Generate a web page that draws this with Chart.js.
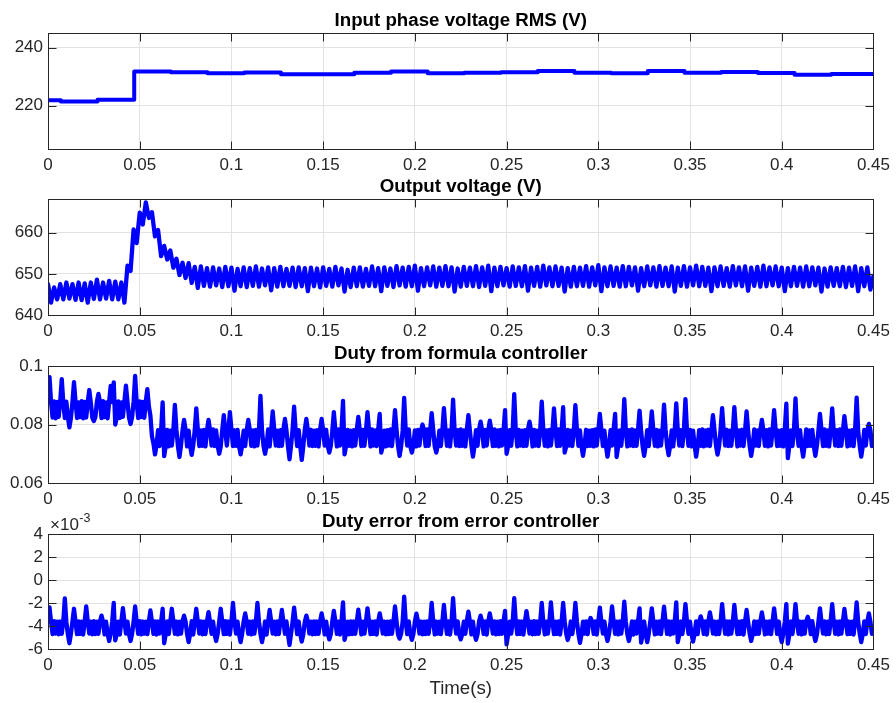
<!DOCTYPE html>
<html>
<head>
<meta charset="utf-8">
<title>Converter simulation traces</title>
<script src="https://cdn.jsdelivr.net/npm/chart.js@4.4.0/dist/chart.umd.min.js"></script>
<style>
  html, body { margin: 0; padding: 0; background: #ffffff; }
  #wrap { position: relative; width: 896px; height: 703px; overflow: hidden; }
  #wrap canvas { position: absolute; left: 0; }
</style>
</head>
<body>
<div id="wrap">
  <canvas id="rmsChart" width="896" height="177" style="top:0px"></canvas>
  <canvas id="voutChart" width="896" height="177" style="top:166px"></canvas>
  <canvas id="dutyChart" width="896" height="178" style="top:333px"></canvas>
  <canvas id="errChart" width="896" height="202" style="top:501px"></canvas>
</div>
<script>
// ---- Simulation traces ----
// Logging intervals (s)
const VOUT_STEP = 1 / 600;
const DUTY_STEP = 1 / 1200;

// Input phase voltage RMS, updated once per mains cycle (time s, value V)
const rmsTimes  = [0, 0.007, 0.027, 0.047, 0.067, 0.087, 0.107, 0.127, 0.147, 0.167, 0.187, 0.207,
                   0.227, 0.247, 0.267, 0.287, 0.307, 0.327, 0.347, 0.367, 0.387, 0.407, 0.427, 0.45];
const rmsValues = [221.8, 221.4, 222.0, 231.7, 231.5, 231.1, 231.4, 230.8, 230.8, 231.3, 231.7, 231.1,
                   231.3, 231.5, 231.9, 231.3, 231.1, 231.9, 231.3, 231.6, 231.2, 230.6, 230.9, 230.9];

// DC output voltage (V), one value every VOUT_STEP
const outputVoltage = [
  647.5, 643.0, 646.7, 643.8, 647.5, 643.8, 647.9, 644.0, 647.5, 643.7, 647.9, 643.6,
  647.7, 643.0, 647.9, 643.9, 648.6, 643.8, 647.9, 644.0, 648.3, 643.8, 648.1, 643.8,
  647.9, 643.0, 652.0, 650.7, 660.8, 657.5, 664.9, 662.0, 667.4, 663.6, 665.0, 659.1,
  660.7, 654.3, 656.8, 653.5, 655.7, 651.5, 653.7, 649.7, 652.7, 649.0, 652.6, 647.8,
  651.7, 646.6, 651.8, 647.1, 651.4, 646.9, 651.6, 647.2, 651.3, 646.8, 651.7, 647.0,
  651.5, 645.9, 651.2, 647.0, 651.6, 646.8, 651.4, 647.1, 651.8, 646.9, 651.3, 647.2,
  651.6, 646.0, 651.4, 646.9, 651.7, 647.0, 651.2, 647.1, 651.5, 646.8, 651.6, 647.0,
  651.4, 645.8, 651.5, 647.0, 651.3, 646.7, 651.6, 647.1, 651.2, 646.9, 651.7, 647.2,
  651.3, 645.7, 651.0, 646.8, 651.5, 647.0, 651.6, 646.9, 651.2, 647.1, 651.8, 647.0,
  651.4, 645.8, 651.6, 647.1, 651.3, 646.8, 651.9, 647.2, 651.5, 646.9, 651.7, 647.0,
  652.0, 645.9, 651.4, 647.0, 651.6, 647.2, 651.8, 646.9, 651.5, 647.1, 651.9, 647.0,
  651.6, 645.7, 651.3, 646.9, 651.7, 647.1, 651.5, 647.0, 651.9, 646.8, 651.6, 647.1,
  652.0, 645.8, 651.5, 647.0, 651.7, 647.2, 651.4, 646.9, 651.8, 647.1, 651.6, 647.0,
  651.9, 645.9, 651.5, 647.1, 651.7, 646.9, 652.0, 647.2, 651.6, 647.0, 651.8, 647.1,
  651.5, 645.7, 651.4, 646.9, 651.7, 647.0, 651.5, 647.1, 651.9, 646.9, 651.6, 647.2,
  652.1, 645.8, 651.6, 647.0, 651.8, 647.1, 651.5, 646.9, 651.9, 647.0, 651.7, 647.2,
  651.6, 645.9, 651.4, 647.0, 651.8, 647.2, 651.6, 646.9, 651.9, 647.1, 651.5, 647.0,
  651.8, 645.7, 651.5, 647.1, 651.9, 646.9, 651.6, 647.2, 652.0, 647.0, 651.7, 647.1,
  651.5, 645.8, 651.6, 647.0, 651.8, 647.1, 651.4, 646.9, 651.9, 647.2, 651.6, 647.0,
  651.8, 645.9, 651.5, 647.1, 651.7, 646.9, 652.0, 647.0, 651.6, 647.2, 651.8, 647.0,
  651.5, 645.8, 651.4, 647.0, 651.7, 647.1, 651.5, 646.9, 651.8, 647.0, 651.6, 647.2,
  651.5, 645.7, 651.3, 646.9, 651.6, 647.1, 651.4, 647.0, 651.7, 646.8, 651.5, 647.1,
  651.8, 645.8, 651.4, 647.0, 651.6, 646.2, 649.5
];

// Duty cycle produced by the formula-based controller, one value every DUTY_STEP
const dutyFormula = [
  0.0880, 0.0962, 0.0876, 0.0824, 0.0879, 0.0821, 0.0877, 0.0826, 0.0880, 0.0955, 0.0875, 0.0822, 0.0878, 0.0825, 0.0790, 0.0823, 0.0877, 0.0945, 0.0879, 0.0822,
  0.0876, 0.0825, 0.0880, 0.0821, 0.0877, 0.0824, 0.0878, 0.0918, 0.0875, 0.0823, 0.0812, 0.0826, 0.0879, 0.0905, 0.0877, 0.0822, 0.0880, 0.0825, 0.0876, 0.0821,
  0.0878, 0.0932, 0.0877, 0.0944, 0.0800, 0.0824, 0.0879, 0.0822, 0.0876, 0.0826, 0.0880, 0.0933, 0.0877, 0.0823, 0.0802, 0.0825, 0.0878, 0.0966, 0.0876, 0.0822,
  0.0879, 0.0825, 0.0877, 0.0823, 0.0880, 0.0921, 0.0862, 0.0830, 0.0760, 0.0735, 0.0698, 0.0728, 0.0781, 0.0726, 0.0780, 0.0876, 0.0692, 0.0727, 0.0782, 0.0725,
  0.0779, 0.0728, 0.0781, 0.0867, 0.0783, 0.0726, 0.0689, 0.0729, 0.0780, 0.0816, 0.0782, 0.0725, 0.0779, 0.0727, 0.0696, 0.0728, 0.0781, 0.0855, 0.0783, 0.0726,
  0.0780, 0.0727, 0.0782, 0.0725, 0.0779, 0.0816, 0.0781, 0.0728, 0.0783, 0.0726, 0.0780, 0.0727, 0.0700, 0.0725, 0.0782, 0.0832, 0.0779, 0.0728, 0.0781, 0.0842,
  0.0783, 0.0726, 0.0780, 0.0727, 0.0782, 0.0725, 0.0698, 0.0728, 0.0779, 0.0726, 0.0781, 0.0816, 0.0783, 0.0727, 0.0780, 0.0725, 0.0782, 0.0728, 0.0779, 0.0898,
  0.0781, 0.0726, 0.0700, 0.0727, 0.0783, 0.0725, 0.0780, 0.0845, 0.0782, 0.0728, 0.0779, 0.0726, 0.0781, 0.0727, 0.0783, 0.0819, 0.0780, 0.0725, 0.0681, 0.0728,
  0.0782, 0.0861, 0.0779, 0.0726, 0.0781, 0.0727, 0.0679, 0.0725, 0.0783, 0.0819, 0.0780, 0.0728, 0.0782, 0.0726, 0.0779, 0.0727, 0.0781, 0.0725, 0.0783, 0.0819,
  0.0780, 0.0728, 0.0782, 0.0726, 0.0704, 0.0727, 0.0779, 0.0842, 0.0781, 0.0725, 0.0783, 0.0728, 0.0780, 0.0881, 0.0698, 0.0726, 0.0782, 0.0727, 0.0779, 0.0725,
  0.0781, 0.0728, 0.0783, 0.0826, 0.0780, 0.0726, 0.0782, 0.0727, 0.0779, 0.0842, 0.0781, 0.0725, 0.0783, 0.0728, 0.0780, 0.0726, 0.0782, 0.0836, 0.0704, 0.0727,
  0.0779, 0.0725, 0.0781, 0.0728, 0.0783, 0.0726, 0.0780, 0.0849, 0.0782, 0.0727, 0.0693, 0.0725, 0.0779, 0.0891, 0.0781, 0.0728, 0.0783, 0.0726, 0.0704, 0.0727,
  0.0780, 0.0725, 0.0782, 0.0728, 0.0779, 0.0800, 0.0781, 0.0726, 0.0783, 0.0727, 0.0780, 0.0839, 0.0782, 0.0725, 0.0704, 0.0728, 0.0779, 0.0726, 0.0781, 0.0856,
  0.0783, 0.0727, 0.0780, 0.0725, 0.0782, 0.0885, 0.0779, 0.0728, 0.0781, 0.0726, 0.0783, 0.0727, 0.0780, 0.0725, 0.0782, 0.0832, 0.0779, 0.0728, 0.0690, 0.0726,
  0.0781, 0.0727, 0.0783, 0.0810, 0.0780, 0.0725, 0.0782, 0.0728, 0.0779, 0.0813, 0.0781, 0.0726, 0.0783, 0.0727, 0.0780, 0.0725, 0.0782, 0.0728, 0.0779, 0.0849,
  0.0700, 0.0726, 0.0781, 0.0727, 0.0783, 0.0904, 0.0780, 0.0725, 0.0782, 0.0728, 0.0779, 0.0726, 0.0781, 0.0727, 0.0783, 0.0810, 0.0780, 0.0725, 0.0782, 0.0728,
  0.0779, 0.0726, 0.0781, 0.0878, 0.0783, 0.0727, 0.0780, 0.0725, 0.0782, 0.0728, 0.0779, 0.0855, 0.0781, 0.0726, 0.0783, 0.0727, 0.0780, 0.0859, 0.0704, 0.0725,
  0.0782, 0.0728, 0.0779, 0.0726, 0.0781, 0.0866, 0.0783, 0.0727, 0.0780, 0.0725, 0.0693, 0.0728, 0.0782, 0.0726, 0.0779, 0.0727, 0.0781, 0.0725, 0.0783, 0.0728,
  0.0780, 0.0836, 0.0782, 0.0726, 0.0779, 0.0727, 0.0690, 0.0725, 0.0781, 0.0728, 0.0783, 0.0836, 0.0689, 0.0726, 0.0780, 0.0727, 0.0782, 0.0887, 0.0779, 0.0725,
  0.0781, 0.0728, 0.0783, 0.0726, 0.0780, 0.0727, 0.0782, 0.0847, 0.0779, 0.0725, 0.0693, 0.0728, 0.0781, 0.0726, 0.0783, 0.0845, 0.0780, 0.0727, 0.0782, 0.0725,
  0.0779, 0.0728, 0.0781, 0.0868, 0.0783, 0.0726, 0.0695, 0.0727, 0.0780, 0.0725, 0.0782, 0.0872, 0.0779, 0.0728, 0.0781, 0.0726, 0.0783, 0.0887, 0.0780, 0.0727,
  0.0782, 0.0725, 0.0779, 0.0728, 0.0690, 0.0726, 0.0781, 0.0727, 0.0783, 0.0725, 0.0780, 0.0728, 0.0782, 0.0726, 0.0779, 0.0832, 0.0781, 0.0727, 0.0697, 0.0725,
  0.0783, 0.0856, 0.0780, 0.0728, 0.0782, 0.0726, 0.0779, 0.0727, 0.0781, 0.0859, 0.0783, 0.0725, 0.0780, 0.0728, 0.0782, 0.0726, 0.0779, 0.0845, 0.0781, 0.0727,
  0.0693, 0.0725, 0.0783, 0.0728, 0.0780, 0.0726, 0.0782, 0.0816, 0.0779, 0.0727, 0.0781, 0.0725, 0.0783, 0.0728, 0.0780, 0.0849, 0.0782, 0.0726, 0.0779, 0.0727,
  0.0781, 0.0725, 0.0783, 0.0871, 0.0685, 0.0728, 0.0780, 0.0726, 0.0782, 0.0889, 0.0779, 0.0727, 0.0781, 0.0725, 0.0690, 0.0728, 0.0783, 0.0726, 0.0780, 0.0727,
  0.0782, 0.0725, 0.0693, 0.0728, 0.0779, 0.0836, 0.0781, 0.0726, 0.0783, 0.0727, 0.0780, 0.0725, 0.0782, 0.0855, 0.0779, 0.0728, 0.0781, 0.0726, 0.0783, 0.0727,
  0.0780, 0.0829, 0.0782, 0.0725, 0.0779, 0.0728, 0.0781, 0.0726, 0.0783, 0.0892, 0.0780, 0.0727, 0.0690, 0.0725, 0.0782, 0.0728, 0.0779, 0.0802, 0.0781, 0.0726,
  0.0760
];

// Duty correction from the error controller, in units of 1e-3, one value every DUTY_STEP
const dutyErrorMilli = [
  -3.60, -2.38, -3.62, -4.70, -3.58, -4.66, -3.63, -4.72, -3.61, -4.68, -3.59, -1.60, -3.62, -4.73, -5.50, -4.67, -3.60, -2.50, -3.63, -4.71,
  -3.59, -4.69, -3.62, -4.74, -3.60, -2.30, -3.61, -4.66, -3.63, -4.72, -3.58, -4.70, -3.62, -4.68, -3.60, -3.10, -3.61, -4.73, -3.63, -4.67,
  -5.30, -4.71, -3.60, -2.00, -5.25, -4.69, -3.62, -4.74, -3.59, -2.45, -3.61, -4.66, -3.63, -4.72, -5.30, -4.70, -3.60, -2.30, -3.62, -4.68,
  -3.58, -4.73, -3.61, -4.67, -3.63, -4.71, -3.60, -2.65, -3.62, -4.69, -3.59, -4.74, -3.61, -4.66, -3.63, -2.50, -5.50, -4.72, -3.60, -4.70,
  -3.62, -2.50, -3.59, -4.68, -3.61, -4.73, -3.63, -4.67, -3.60, -3.10, -3.62, -4.71, -5.40, -4.69, -3.58, -4.74, -3.61, -2.50, -3.63, -4.66,
  -3.60, -4.72, -3.62, -4.70, -3.59, -2.80, -3.61, -4.68, -3.63, -4.73, -5.30, -4.67, -3.60, -2.50, -3.62, -4.71, -3.58, -4.69, -3.61, -4.74,
  -3.63, -2.00, -3.60, -4.66, -3.62, -4.72, -5.40, -4.70, -3.59, -2.90, -3.61, -4.68, -3.63, -4.73, -3.60, -4.67, -3.62, -2.00, -3.58, -4.71,
  -5.40, -4.69, -3.61, -4.74, -3.63, -2.60, -3.60, -4.66, -3.62, -4.72, -3.59, -4.70, -3.61, -2.60, -3.63, -4.68, -3.60, -4.73, -5.65, -4.67,
  -3.62, -2.40, -3.58, -4.71, -3.61, -4.69, -5.36, -4.74, -3.63, -3.10, -3.60, -4.66, -3.62, -4.72, -3.59, -4.70, -3.61, -4.68, -3.63, -2.90,
  -3.60, -4.73, -3.62, -4.67, -5.16, -4.71, -3.58, -2.68, -3.61, -4.69, -3.63, -4.74, -3.60, -1.94, -5.20, -4.66, -3.62, -4.72, -3.59, -4.70,
  -3.61, -4.68, -3.63, -2.58, -3.60, -4.73, -3.62, -4.67, -3.58, -2.46, -3.61, -4.71, -3.63, -4.69, -3.60, -4.74, -3.62, -2.90, -3.59, -4.66,
  -3.61, -4.72, -3.63, -4.70, -3.60, -4.68, -3.62, -2.29, -3.58, -4.73, -5.10, -4.67, -3.61, -1.45, -3.63, -4.71, -3.60, -4.69, -5.20, -4.74,
  -3.62, -2.93, -3.59, -4.66, -3.61, -4.72, -3.63, -4.70, -3.60, -4.68, -3.62, -2.00, -3.58, -4.73, -3.61, -4.67, -3.63, -4.71, -3.60, -2.17,
  -3.62, -4.69, -3.59, -4.74, -3.61, -1.57, -3.63, -4.66, -3.60, -4.72, -5.16, -4.70, -3.62, -4.68, -3.58, -2.75, -3.61, -4.73, -3.63, -4.67,
  -5.20, -4.71, -3.60, -3.10, -3.62, -4.69, -3.59, -4.74, -3.61, -2.90, -3.63, -4.66, -3.60, -4.72, -3.62, -4.70, -3.58, -4.68, -3.61, -2.68,
  -5.60, -4.73, -3.63, -4.67, -3.60, -1.57, -3.62, -4.71, -3.59, -4.69, -3.61, -4.74, -3.63, -2.70, -3.60, -4.66, -3.62, -4.72, -3.58, -4.70,
  -3.61, -4.68, -3.63, -2.00, -3.60, -4.73, -3.62, -4.67, -3.59, -1.94, -3.61, -4.71, -3.63, -4.69, -3.60, -4.74, -3.62, -2.00, -3.58, -4.66,
  -5.22, -4.72, -3.61, -4.70, -3.63, -2.00, -3.60, -4.68, -5.47, -4.73, -3.62, -4.67, -3.59, -4.71, -3.61, -3.30, -3.63, -4.69, -3.60, -4.74,
  -3.62, -2.40, -3.58, -4.66, -3.61, -4.72, -5.30, -4.70, -3.63, -2.30, -3.60, -4.68, -3.62, -4.73, -3.59, -4.67, -3.61, -1.89, -3.63, -4.71,
  -5.30, -4.69, -3.60, -4.74, -3.62, -4.66, -3.58, -2.46, -5.45, -4.72, -3.61, -4.70, -5.40, -4.68, -3.63, -2.46, -3.60, -4.73, -3.62, -4.67,
  -3.59, -4.71, -3.61, -2.32, -3.63, -4.69, -3.60, -4.74, -3.62, -4.66, -3.58, -1.94, -5.40, -4.72, -3.61, -4.70, -3.63, -2.09, -3.60, -4.68,
  -3.62, -4.73, -5.35, -4.67, -3.59, -4.71, -3.61, -3.16, -3.63, -4.69, -3.60, -4.74, -3.62, -2.81, -3.58, -4.66, -3.61, -4.72, -3.63, -4.70,
  -3.60, -2.09, -3.62, -4.68, -3.59, -4.73, -3.61, -4.67, -3.63, -2.17, -3.60, -4.71, -3.62, -4.69, -3.58, -4.74, -3.61, -2.60, -3.63, -4.66,
  -5.30, -4.72, -3.60, -4.70, -3.62, -4.68, -3.59, -2.81, -3.61, -4.73, -3.63, -4.67, -3.60, -4.71, -3.62, -2.46, -3.58, -4.69, -3.61, -4.74,
  -5.40, -4.66, -3.63, -2.09, -5.54, -4.72, -3.60, -4.70, -3.62, -2.09, -3.59, -4.68, -3.61, -4.73, -3.63, -4.67, -3.60, -3.20, -3.62, -4.71,
  -3.58, -4.69, -5.30, -4.74, -3.61, -2.46, -3.63, -4.66, -3.60, -4.72, -3.62, -4.70, -3.59, -2.09, -3.61, -4.68, -3.63, -4.73, -3.60, -4.67,
  -3.62, -2.52, -3.58, -4.71, -3.61, -4.69, -3.63, -4.74, -3.60, -1.94, -3.62, -4.66, -5.40, -4.72, -3.59, -4.70, -3.61, -2.90, -3.63, -4.68,
  -4.20
];

// Axis ticks
const timeTicks   = [0, 0.05, 0.1, 0.15, 0.2, 0.25, 0.3, 0.35, 0.4, 0.45];
const rmsTicks    = [220, 240];
const voutTicks   = [640, 650, 660];
const dutyTicks   = [0.06, 0.08, 0.1];
const errTicks    = [-6, -4, -2, 0, 2, 4];

// ---- Styling ----
const FONT = "'Liberation Sans', Arial, Helvetica, sans-serif";
const AXIS_COLOR = '#262626';
const GRID_COLOR = '#e2e2e2';
const TRACE_COLOR = '#0000ff';

function sampled(values, step) {
  return values.map((v, i) => ({ x: i * step, y: v }));
}
function paired(times, values) {
  return times.map((t, i) => ({ x: t, y: values[i] }));
}
function fmt(v) { return String(Number(v.toFixed(4))); }

// Box around the plot area with inward tick marks on all four sides
const axesFrame = {
  id: 'axesFrame',
  afterDatasetsDraw(chart) {
    const { ctx, chartArea: a, scales } = chart;
    const al = p => Math.round(p) + 0.5;
    const len = 8;
    ctx.save();
    ctx.strokeStyle = AXIS_COLOR;
    ctx.lineWidth = 1;
    ctx.beginPath();
    scales.x.ticks.forEach(t => {
      const px = al(scales.x.getPixelForValue(t.value));
      ctx.moveTo(px, al(a.bottom)); ctx.lineTo(px, al(a.bottom) - len);
      ctx.moveTo(px, al(a.top));    ctx.lineTo(px, al(a.top) + len);
    });
    scales.y.ticks.forEach(t => {
      const py = al(scales.y.getPixelForValue(t.value));
      ctx.moveTo(al(a.left), py);  ctx.lineTo(al(a.left) + len, py);
      ctx.moveTo(al(a.right), py); ctx.lineTo(al(a.right) - len, py);
    });
    ctx.stroke();
    ctx.strokeRect(al(a.left), al(a.top), al(a.right) - al(a.left), al(a.bottom) - al(a.top));
    ctx.restore();
  }
};

// Exponent note above the y axis
const exponentNote = {
  id: 'exponentNote',
  afterDraw(chart, args, opts) {
    if (!opts || !opts.text) return;
    const { ctx, chartArea: a } = chart;
    ctx.save();
    ctx.fillStyle = AXIS_COLOR;
    ctx.textBaseline = 'alphabetic';
    ctx.textAlign = 'left';
    ctx.font = `17px ${FONT}`;
    const base = a.top - 4;
    ctx.fillText(opts.text, a.left + 2, base);
    const w = ctx.measureText(opts.text).width;
    ctx.font = `12.5px ${FONT}`;
    ctx.fillText(opts.sup, a.left + 2 + w + 0.5, base - 8);
    ctx.restore();
  }
};

function makeChart(id, cfg) {
  const canvas = document.getElementById(id);
  const xAxisHeight = canvas.height - 33 - cfg.plotHeight;
  const xScale = {
    type: 'linear',
    min: 0, max: 0.45,
    afterBuildTicks: s => { s.ticks = timeTicks.map(v => ({ value: v })); },
    afterFit: s => { s.height = xAxisHeight; },
    grid: { color: GRID_COLOR, lineWidth: 1, drawTicks: false },
    border: { display: false },
    ticks: {
      color: AXIS_COLOR, font: { family: FONT, size: 17 }, padding: 6,
      maxRotation: 0, autoSkip: false, callback: v => fmt(v)
    }
  };
  if (cfg.xTitle) {
    xScale.title = {
      display: true, text: cfg.xTitle, color: AXIS_COLOR,
      font: { family: FONT, size: 18.7 }, padding: { top: 0, bottom: 3.3 }
    };
  }
  return new Chart(canvas, {
    type: 'line',
    data: {
      datasets: [{
        data: cfg.data,
        borderColor: TRACE_COLOR,
        borderWidth: cfg.lineWidth || 4.3,
        pointRadius: 0,
        pointHoverRadius: 0,
        tension: 0,
        stepped: cfg.stepped || false,
        borderJoinStyle: 'round',
        borderCapStyle: 'round',
        clip: 0
      }]
    },
    options: {
      responsive: false,
      devicePixelRatio: 1,
      animation: false,
      events: [],
      layout: { padding: { left: 0, right: 19, top: 0, bottom: 0 } },
      scales: {
        x: xScale,
        y: {
          type: 'linear',
          min: cfg.yMin, max: cfg.yMax,
          afterBuildTicks: s => { s.ticks = cfg.yTicks.map(v => ({ value: v })); },
          afterFit: s => { s.width = 48; },
          grid: { color: GRID_COLOR, lineWidth: 1, drawTicks: false },
          border: { display: false },
          ticks: {
            color: AXIS_COLOR, font: { family: FONT, size: 17 }, padding: 5,
            autoSkip: false, callback: v => fmt(v)
          }
        }
      },
      plugins: {
        legend: { display: false },
        tooltip: { enabled: false },
        title: {
          display: true, text: cfg.title, fullSize: false, color: '#000000',
          font: { family: FONT, size: 18.7, weight: 'bold', lineHeight: 1.2 },
          padding: { top: 9.3, bottom: 1.3 }
        },
        exponentNote: cfg.exponent || {}
      }
    },
    plugins: [axesFrame, exponentNote]
  });
}

makeChart('rmsChart', {
  title: 'Input phase voltage RMS (V)',
  data: paired(rmsTimes, rmsValues), stepped: true,
  yMin: 205, yMax: 245, yTicks: rmsTicks, plotHeight: 116, lineWidth: 4
});
makeChart('voutChart', {
  title: 'Output voltage (V)',
  data: sampled(outputVoltage, VOUT_STEP),
  yMin: 640, yMax: 668.2, yTicks: voutTicks, plotHeight: 116
});
makeChart('dutyChart', {
  title: 'Duty from formula controller',
  data: sampled(dutyFormula, DUTY_STEP),
  yMin: 0.06, yMax: 0.1, yTicks: dutyTicks, plotHeight: 117
});
makeChart('errChart', {
  title: 'Duty error from error controller',
  data: sampled(dutyErrorMilli, DUTY_STEP),
  yMin: -6, yMax: 4, yTicks: errTicks, plotHeight: 115,
  xTitle: 'Time(s)',
  exponent: { text: '\u00d710', sup: '-3' }
});
</script>
</body>
</html>
